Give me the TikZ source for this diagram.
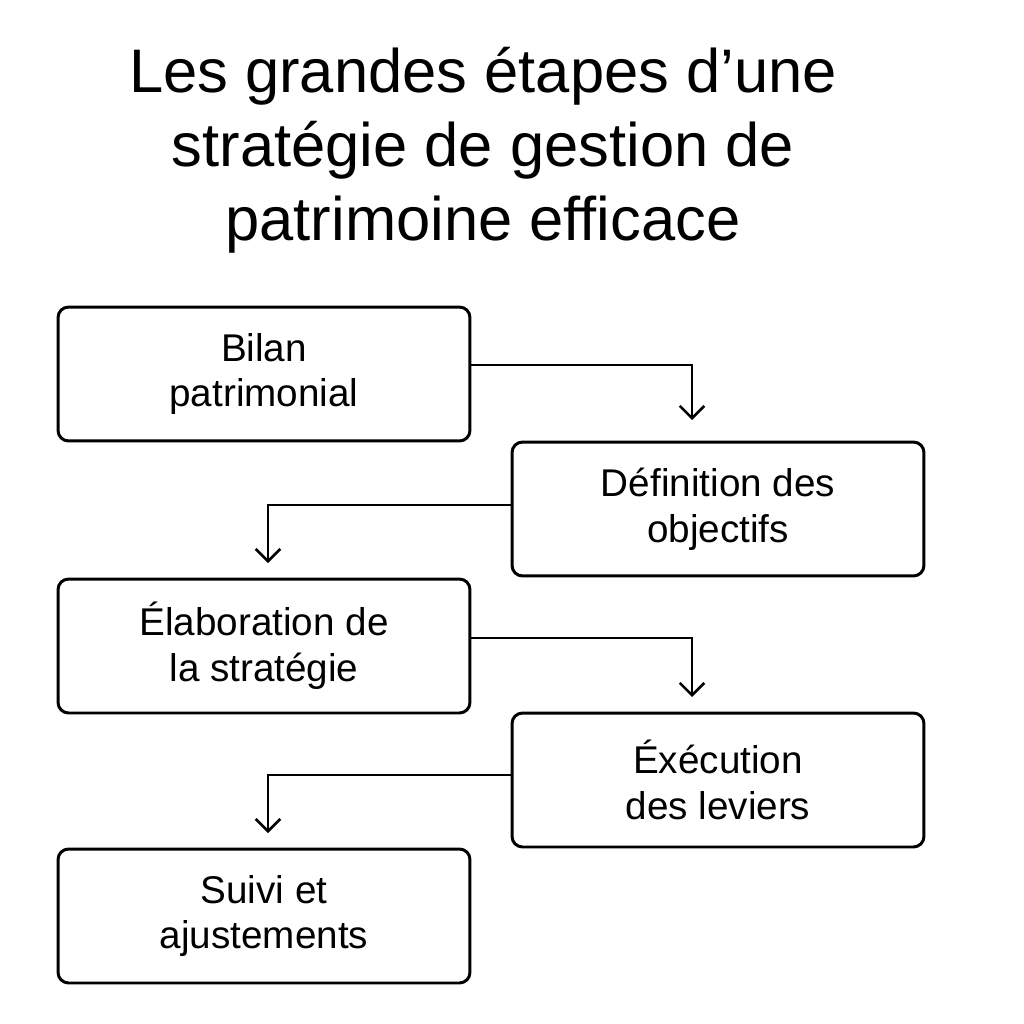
\documentclass[tikz,border=0pt]{standalone}
\usepackage{fontspec}
\setmainfont{Liberation Sans}
\usetikzlibrary{arrows.meta, positioning, calc}

\begin{document}
\begin{tikzpicture}[x=0.02cm, y=-0.02cm]
    % --- Style Definitions ---
    \tikzset{
        % Step boxes
        stepbox/.style={
            draw=black,
            line width=1.7pt,
            rounded corners=6pt,
            minimum width=8.24cm,
            minimum height=2.68cm,
            align=center,
            font=\fontsize{22}{26}\selectfont
        },
        % Title text
        title text/.style={font=\fontsize{35}{42}\selectfont, align=center},
        % Connector
        flow arrow/.style={
            -{Straight Barb[length=7pt, width=14pt, line width=1.5pt]},
            line width=1.5pt,
            black
        }
    }

    % Canvas
    \useasboundingbox (0,0) rectangle (1024,1024);

    % Title
    \node[title text] (title) at (483,150) {Les grandes étapes d’une\\stratégie de gestion de\\patrimoine efficace};

    % Steps
    \node[stepbox] (bilan) at (264,374) {Bilan\\patrimonial};
    \node[stepbox] (objectifs) at (718,509) {Définition des\\objectifs};
    \node[stepbox] (strategie) at (264,646) {Élaboration de\\la stratégie};
    \node[stepbox] (execution) at (718,780) {Éxécution\\des leviers};
    \node[stepbox] (suivi) at (264,916) {Suivi et\\ajustements};

    % Arrow ends
    \coordinate (end_a) at (692,420);
    \coordinate (end_b) at (268,563);
    \coordinate (end_c) at (692,697);
    \coordinate (end_d) at (268,833);

    % Connectors
    \draw[flow arrow] ($(bilan.east)+(0,-9)$) -| (end_a);
    \draw[flow arrow] ($(objectifs.west)+(0,-4)$) -| (end_b);
    \draw[flow arrow] ($(strategie.east)+(0,-8)$) -| (end_c);
    \draw[flow arrow] ($(execution.west)+(0,-5)$) -| (end_d);

\end{tikzpicture}
\end{document}
